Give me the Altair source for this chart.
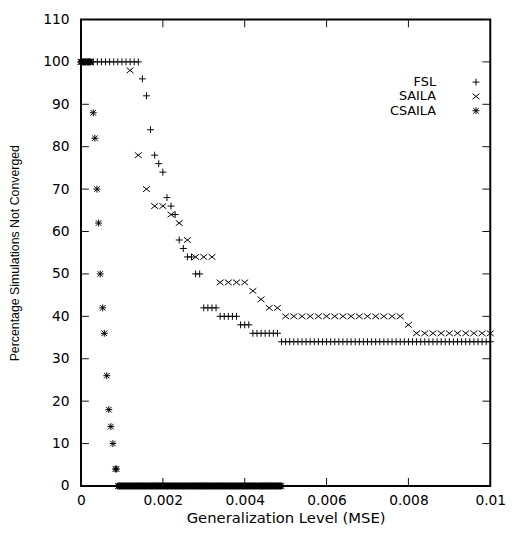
import altair as alt
import pandas as pd

# ---------------- data ----------------
# FSL : runs of equal value, sampled every 0.0001
FSL_STEP = 0.0001
FSL_VALUES = [100, 96, 92, 84, 78, 76, 74, 68, 66, 64, 58, 56, 54, 50, 42, 40, 38, 36, 34]
FSL_START = [0.0000, 0.0015, 0.0016, 0.0017, 0.0018, 0.0019, 0.0020, 0.0021, 0.0022, 0.0023,
             0.0024, 0.0025, 0.0026, 0.0028, 0.0030, 0.0034, 0.0039, 0.0042, 0.0049]
FSL_END = [0.0014, 0.0015, 0.0016, 0.0017, 0.0018, 0.0019, 0.0020, 0.0021, 0.0022, 0.0023,
           0.0024, 0.0025, 0.0027, 0.0029, 0.0033, 0.0038, 0.0041, 0.0048, 0.0100]

# SAILA : runs of equal value, sampled every 0.0002
SAILA_STEP = 0.0002
SAILA_VALUES = [100, 98, 78, 70, 66, 64, 62, 58, 54, 48, 46, 44, 42, 40, 38, 36]
SAILA_START = [0.0000, 0.0012, 0.0014, 0.0016, 0.0018, 0.0022, 0.0024, 0.0026, 0.0028,
               0.0034, 0.0042, 0.0044, 0.0046, 0.0050, 0.0080, 0.0082]
SAILA_END = [0.0002, 0.0012, 0.0014, 0.0016, 0.0020, 0.0022, 0.0024, 0.0026, 0.0032,
             0.0040, 0.0042, 0.0044, 0.0048, 0.0078, 0.0080, 0.0100]

# CSAILA : dense runs at 100 and 0, single points in between
CSAILA_STEP = 0.00002
CSAILA_RUN_VALUES = [100, 0]
CSAILA_RUN_START = [0.0000, 0.0009]
CSAILA_RUN_END = [0.00024, 0.0049]
CSAILA_X = [0.00030, 0.00034, 0.00039, 0.00043, 0.00047, 0.00053, 0.00057,
            0.00063, 0.00068, 0.00073, 0.00078, 0.00084, 0.00087]
CSAILA_Y = [88, 82, 70, 62, 50, 42, 36, 26, 18, 14, 10, 4, 4]

SERIES = ["FSL", "SAILA", "CSAILA"]
X_TICKS = [0, 0.002, 0.004, 0.006, 0.008, 0.01]
Y_TICKS = [0, 10, 20, 30, 40, 50, 60, 70, 80, 90, 100, 110]
X_MIN, X_MAX = 0, 0.01
Y_MIN, Y_MAX = 0, 110
X_TITLE = "Generalization Level (MSE)"
Y_TITLE = "Percentage Simulations Not Converged"

# marker glyphs: plus, cross, asterisk
SHAPES = [
    "M-1,0L1,0M0,-1L0,1",
    "M-1,-0.8L1,0.8M-1,0.8L1,-0.8",
    "M-1,0L1,0M0,-1L0,1M-0.8,-0.8L0.8,0.8M-0.8,0.8L0.8,-0.8",
]


def expand(name, values, starts, ends, step):
    rows = []
    for v, s, e in zip(values, starts, ends):
        n = int(round((e - s) / step)) + 1
        for i in range(n):
            rows.append({"series": name, "x": round(s + i * step, 6), "y": v})
    return rows


rows = []
rows += expand("FSL", FSL_VALUES, FSL_START, FSL_END, FSL_STEP)
rows += expand("SAILA", SAILA_VALUES, SAILA_START, SAILA_END, SAILA_STEP)
rows += expand("CSAILA", CSAILA_RUN_VALUES, CSAILA_RUN_START, CSAILA_RUN_END, CSAILA_STEP)
rows += [{"series": "CSAILA", "x": x, "y": y} for x, y in zip(CSAILA_X, CSAILA_Y)]
df = pd.DataFrame(rows)
xt = pd.DataFrame({"t": X_TICKS})
yt = pd.DataFrame({"t": Y_TICKS})

W, H = 415, 473
FONT = "DejaVu Sans"
TICK = 8
TICK_COLOR = "#111"

xscale = alt.Scale(domain=[X_MIN, X_MAX], nice=False, zero=False)
yscale = alt.Scale(domain=[Y_MIN, Y_MAX], nice=False, zero=False)

AX_X = alt.Axis(orient="bottom", values=X_TICKS, format="~g", ticks=False, tickSize=0,
                labelPadding=8, grid=False, domain=False, labelFlush=False,
                labelFont=FONT, labelFontSize=14, labelColor="black",
                title=X_TITLE, titlePadding=3, titleFont=FONT, titleFontSize=15,
                titleFontWeight="normal", titleColor="black")
AX_Y = alt.Axis(orient="left", values=Y_TICKS, ticks=False, tickSize=0,
                labelPadding=12, grid=False, domain=False, labelFlush=False,
                labelFont=FONT, labelFontSize=14, labelColor="black",
                title=Y_TITLE, titlePadding=22, titleFont="Liberation Sans",
                titleFontSize=12.5, titleFontWeight="normal", titleColor="black")

points = alt.Chart(df).mark_point(
    filled=False, size=49, strokeWidth=1, color="black", opacity=1
).encode(
    x=alt.X("x:Q", scale=xscale, axis=AX_X),
    y=alt.Y("y:Q", scale=yscale, axis=AX_Y),
    shape=alt.Shape("series:N", scale=alt.Scale(domain=SERIES, range=SHAPES),
                    legend=alt.Legend(title=None, orient="none", legendX=394, legendY=57,
                                      labelAlign="right", labelOffset={"expr": "-47"},
                                      symbolSize=49, symbolStrokeColor="black",
                                      symbolStrokeWidth=1, symbolFillColor="transparent",
                                      labelFont=FONT, labelFontSize=13, labelColor="black",
                                      rowPadding=0.5)),
)

# inward (gnuplot style) tick marks on all four sides, placed by the same scales
y_left = alt.Chart(yt).mark_tick(orient="horizontal", size=TICK, thickness=1,
                                 xOffset=TICK / 2, color=TICK_COLOR, opacity=1).encode(
    y=alt.Y("t:Q", scale=yscale, axis=None),
    x=alt.XDatum(X_MIN, axis=None))
y_right = alt.Chart(yt).mark_tick(orient="horizontal", size=TICK, thickness=1,
                                  xOffset=-TICK / 2, color=TICK_COLOR, opacity=1).encode(
    y=alt.Y("t:Q", scale=yscale, axis=None),
    x=alt.XDatum(X_MAX, axis=None))
x_bottom = alt.Chart(xt).mark_tick(orient="vertical", size=TICK, thickness=1,
                                   yOffset=-TICK / 2, color=TICK_COLOR, opacity=1).encode(
    x=alt.X("t:Q", scale=xscale, axis=None),
    y=alt.YDatum(Y_MIN, axis=None))
x_top = alt.Chart(xt).mark_tick(orient="vertical", size=TICK, thickness=1,
                                yOffset=TICK / 2, color=TICK_COLOR, opacity=1).encode(
    x=alt.X("t:Q", scale=xscale, axis=None),
    y=alt.YDatum(Y_MAX, axis=None))

chart = alt.layer(points, y_left, y_right, x_bottom, x_top).resolve_axis(
    x="independent", y="independent"
).properties(
    width=W, height=H,
    autosize=alt.AutoSizeParams(type="none"),
    padding={"left": 74, "top": 8, "right": 20, "bottom": 40},
    background="white",
).configure_view(stroke="black", strokeWidth=2)

chart.save("out.html", embed_options={"renderer": "svg", "actions": False})
